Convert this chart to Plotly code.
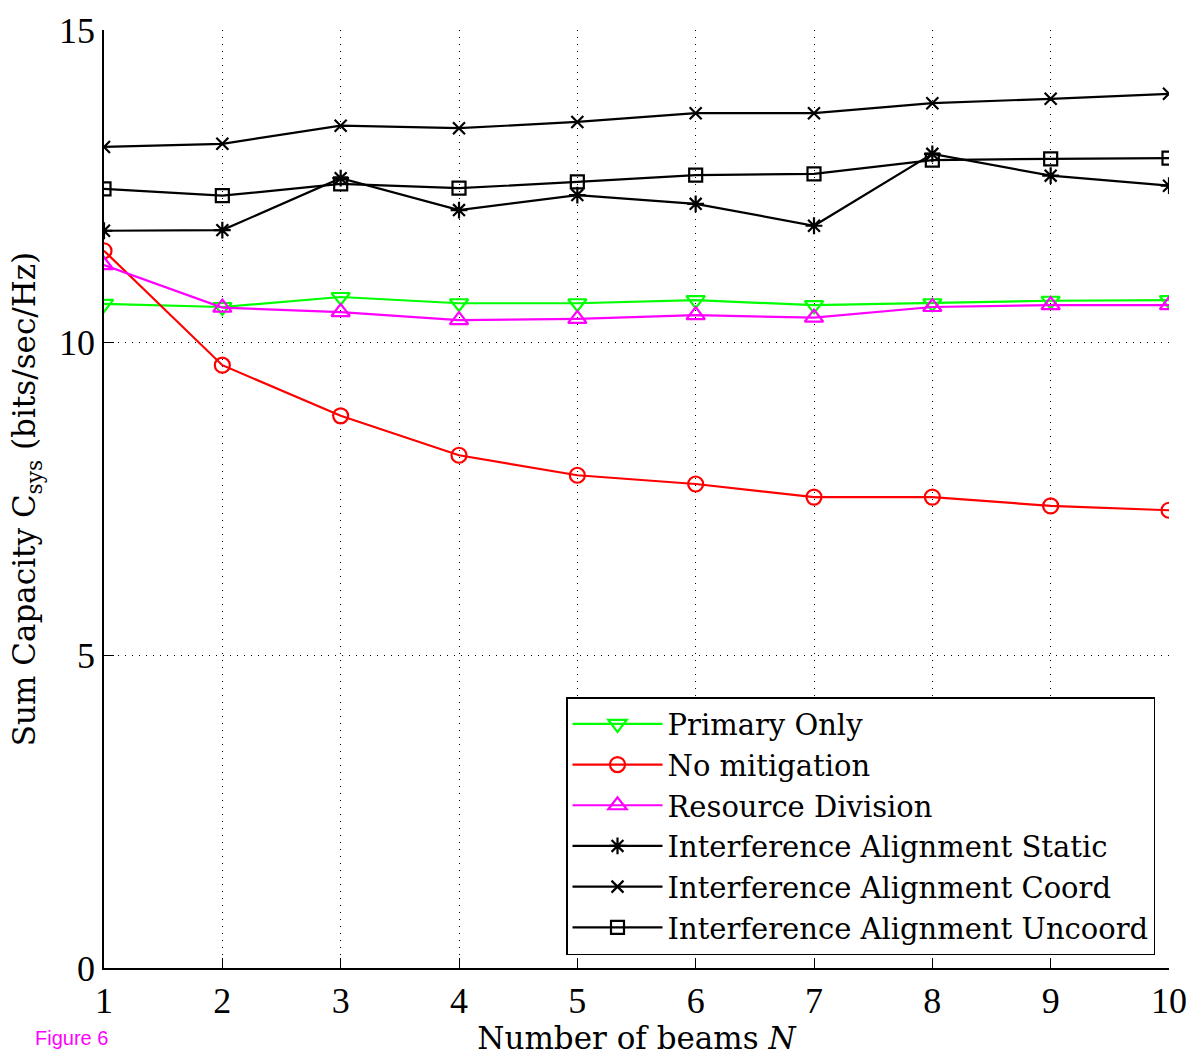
import plotly.graph_objects as go

beams = [1, 2, 3, 4, 5, 6, 7, 8, 9, 10]
primary_only = [10.62, 10.57, 10.73, 10.63, 10.63, 10.68, 10.60, 10.63, 10.67, 10.68]
no_mitigation = [11.47, 9.64, 8.83, 8.20, 7.88, 7.74, 7.53, 7.53, 7.39, 7.32]
resource_division = [11.24, 10.56, 10.49, 10.36, 10.38, 10.44, 10.40, 10.57, 10.60, 10.60]
ia_static = [11.79, 11.80, 12.63, 12.12, 12.36, 12.22, 11.87, 13.02, 12.67, 12.51]
ia_coord = [13.13, 13.18, 13.47, 13.43, 13.53, 13.67, 13.67, 13.83, 13.90, 13.98]
ia_uncoord = [12.46, 12.35, 12.54, 12.47, 12.57, 12.68, 12.70, 12.92, 12.94, 12.95]

x_ticks = [1, 2, 3, 4, 5, 6, 7, 8, 9, 10]
y_ticks = [0, 5, 10, 15]

series = [
    ("Primary Only", primary_only, "#00ff00", "triangle-down-open", 16),
    ("No mitigation", no_mitigation, "#ff0000", "circle-open", 15),
    ("Resource Division", resource_division, "#ff00ff", "triangle-up-open", 16),
    ("Interference Alignment Static", ia_static, "#000000", "asterisk-open", 14),
    ("Interference Alignment Coord", ia_coord, "#000000", "x-thin-open", 12),
    ("Interference Alignment Uncoord", ia_uncoord, "#000000", "square-open", 13),
]

FONT = "Liberation Serif"
WIDE = "DejaVu Serif"

fig = go.Figure()
for name, vals, color, sym, size in series:
    fig.add_trace(go.Scatter(
        x=beams, y=vals, name=name, mode="lines+markers",
        line=dict(color=color, width=2.2),
        marker=dict(symbol=sym, size=size, color=color, line=dict(color=color, width=2.2)),
    ))

fig.update_layout(
    width=1191, height=1056,
    margin=dict(l=104, r=22, t=30, b=88),
    paper_bgcolor="white", plot_bgcolor="white",
    font=dict(family=FONT, size=32, color="black"),
    showlegend=True,
    legend=dict(
        x=(1155 - 104) / 1065, y=(968 - 955) / 938, xanchor="right", yanchor="bottom",
        bgcolor="white", bordercolor="black", borderwidth=1.5,
        font=dict(family=WIDE, size=29, color="black"),
        tracegroupgap=0, itemwidth=90,
    ),
    annotations=[dict(
        text="Figure 6", x=(33 - 104) / 1065, y=(968 - 1038) / 938,
        xref="paper", yref="paper",
        showarrow=False, font=dict(family="Liberation Sans", size=20, color="#ff00ff"),
        xanchor="left", yanchor="middle",
    )],
)

fig.update_xaxes(
    range=[1, 10], tickvals=x_ticks, ticktext=[str(v) for v in x_ticks],
    showline=True, linecolor="black", linewidth=1.5, mirror=False,
    ticks="inside", ticklen=10, tickcolor="black", tickwidth=1,
    showgrid=True, gridcolor="black", gridwidth=1, griddash="1px,6px",
    zeroline=False, automargin=False,
    tickfont=dict(family=FONT, size=36),
    title=dict(text="Number of beams <i>N</i>", font=dict(family=WIDE, size=31), standoff=2),
)
fig.update_yaxes(
    range=[0, 15], tickvals=y_ticks, ticktext=[str(v) for v in y_ticks],
    showline=True, linecolor="black", linewidth=1.5, mirror=False,
    ticks="inside", ticklen=10, tickcolor="black", tickwidth=1,
    showgrid=True, gridcolor="black", gridwidth=1, griddash="1px,6px",
    zeroline=False, automargin=False,
    tickfont=dict(family=FONT, size=36),
    title=dict(text="Sum Capacity C<sub>sys</sub> (bits/sec/Hz)", font=dict(family=WIDE, size=31), standoff=14),
)

fig.write_html("out.html")
